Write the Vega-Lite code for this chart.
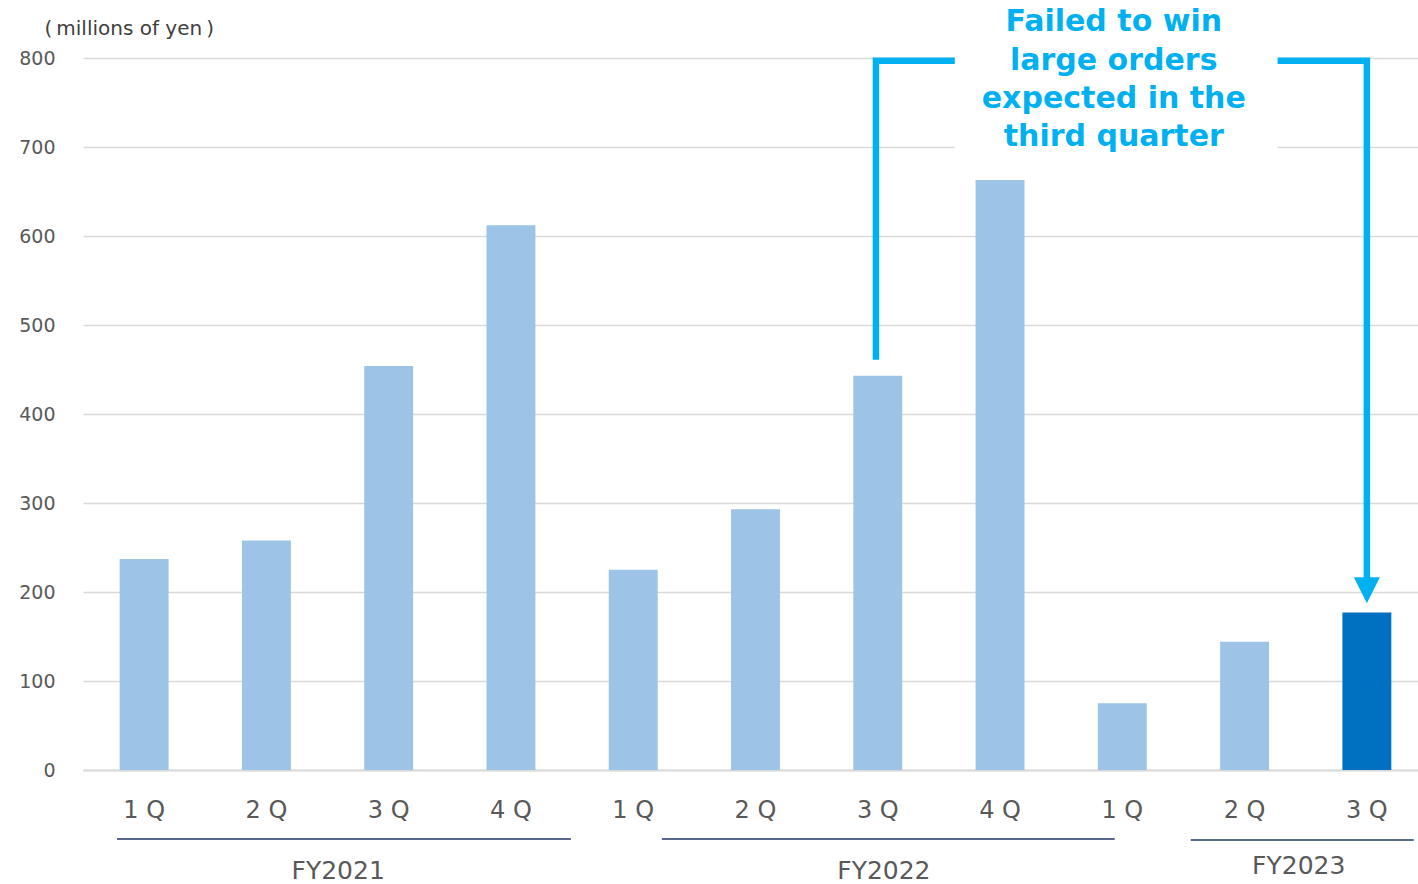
{
  "$schema": "https://vega.github.io/schema/vega-lite/v6.json",
  "width": 1345,
  "height": 712,
  "autosize": {"type": "none"},
  "padding": {"left": 83, "top": 58, "right": 0, "bottom": 114},
  "background": "white",
  "config": {"view": {"stroke": null}, "font": "DejaVu Sans"},
  "resolve": {"scale": {"x": "independent"}, "axis": {"x": "independent", "y": "independent"}},
  "layer": [
    {
      "data": {"values": [
        {"period": "FY2021|1 Q", "value": 237, "latest": "no"},
        {"period": "FY2021|2 Q", "value": 258, "latest": "no"},
        {"period": "FY2021|3 Q", "value": 454, "latest": "no"},
        {"period": "FY2021|4 Q", "value": 612, "latest": "no"},
        {"period": "FY2022|1 Q", "value": 225, "latest": "no"},
        {"period": "FY2022|2 Q", "value": 293, "latest": "no"},
        {"period": "FY2022|3 Q", "value": 443, "latest": "no"},
        {"period": "FY2022|4 Q", "value": 663, "latest": "no"},
        {"period": "FY2023|1 Q", "value": 75, "latest": "no"},
        {"period": "FY2023|2 Q", "value": 144, "latest": "no"},
        {"period": "FY2023|3 Q", "value": 177, "latest": "yes"}
      ]},
      "mark": {"type": "bar"},
      "encoding": {
        "x": {
          "field": "period", "type": "nominal", "sort": null,
          "scale": {"paddingInner": 0.6, "paddingOuter": 0.3},
          "axis": {
            "title": null,
            "labelExpr": "split(datum.value, '|')[1]",
            "labelAngle": 0,
            "labelFontSize": 24,
            "labelColor": "#595959",
            "labelPadding": 28,
            "ticks": false,
            "tickSize": 0,
            "domainColor": "#d9d9d9",
            "domainWidth": 2,
            "grid": false
          }
        },
        "y": {
          "field": "value", "type": "quantitative",
          "scale": {"domain": [0, 800], "nice": false},
          "axis": {
            "values": [0, 100, 200, 300, 400, 500, 600, 700, 800],
            "title": "(\u2009millions of yen\u2009)",
            "titleAngle": 0,
            "titleAlign": "left",
            "titleBaseline": "middle",
            "titleX": -39,
            "titleY": -30,
            "titleFontSize": 20,
            "titleFontWeight": "normal",
            "titleColor": "#404040",
            "labelFontSize": 19,
            "labelColor": "#595959",
            "labelPadding": 28,
            "ticks": false,
            "tickSize": 0,
            "domain": false,
            "gridColor": "#d9d9d9",
            "gridWidth": 1.5
          }
        },
        "color": {
          "field": "latest", "type": "nominal",
          "scale": {"domain": ["no", "yes"], "range": ["#9DC3E6", "#0070C0"]},
          "legend": null
        }
      }
    },
    {
      "data": {"values": [{"left": 6.63, "right": 9.27, "bottom": 690, "top": 870}]},
      "mark": {"type": "rect", "color": "white"},
      "encoding": {
        "x": {"field": "left", "type": "quantitative", "scale": {"domain": [-0.5, 10.5], "nice": false, "zero": false}, "axis": null},
        "x2": {"field": "right"},
        "y": {"field": "bottom", "type": "quantitative", "scale": {"domain": [0, 800], "nice": false}, "axis": null},
        "y2": {"field": "top"}
      }
    },
    {
      "data": {"values": [
        {"seg": "a", "ord": 1, "pos": 5.985, "value": 461},
        {"seg": "a", "ord": 2, "pos": 5.985, "value": 797},
        {"seg": "a", "ord": 3, "pos": 6.63, "value": 797},
        {"seg": "b", "ord": 1, "pos": 9.27, "value": 797},
        {"seg": "b", "ord": 2, "pos": 10.0, "value": 797},
        {"seg": "b", "ord": 3, "pos": 10.0, "value": 206}
      ]},
      "mark": {"type": "line", "color": "#00B0F0", "strokeWidth": 6.5, "strokeJoin": "miter", "strokeCap": "butt"},
      "encoding": {
        "x": {"field": "pos", "type": "quantitative", "scale": {"domain": [-0.5, 10.5], "nice": false, "zero": false}, "axis": null},
        "y": {"field": "value", "type": "quantitative", "scale": {"domain": [0, 800], "nice": false}, "axis": null},
        "detail": {"field": "seg", "type": "nominal"},
        "order": {"field": "ord", "type": "quantitative"}
      }
    },
    {
      "data": {"values": [{"pos": 10.0, "value": 202}]},
      "mark": {"type": "point", "shape": "M-1,-1L1,-1L0,1Z", "filled": true, "color": "#00B0F0", "opacity": 1, "size": 676},
      "encoding": {
        "x": {"field": "pos", "type": "quantitative", "scale": {"domain": [-0.5, 10.5], "nice": false, "zero": false}, "axis": null},
        "y": {"field": "value", "type": "quantitative", "scale": {"domain": [0, 800], "nice": false}, "axis": null}
      }
    },
    {
      "data": {"values": [
        {"pos": 7.93, "value": 840, "label": "Failed to win"},
        {"pos": 7.93, "value": 797, "label": "large orders"},
        {"pos": 7.93, "value": 754, "label": "expected in the"},
        {"pos": 7.93, "value": 711, "label": "third quarter"}
      ]},
      "mark": {"type": "text", "color": "#00B0F0", "fontSize": 30, "fontWeight": "bold", "align": "center", "baseline": "middle"},
      "encoding": {
        "x": {"field": "pos", "type": "quantitative", "scale": {"domain": [-0.5, 10.5], "nice": false, "zero": false}, "axis": null},
        "y": {"field": "value", "type": "quantitative", "scale": {"domain": [0, 800], "nice": false}, "axis": null},
        "text": {"field": "label"}
      }
    },
    {
      "data": {"values": [
        {"fy": "FY2021", "start": -0.222, "end": 3.49, "value": -77.5},
        {"fy": "FY2022", "start": 4.234, "end": 7.938, "value": -77.5},
        {"fy": "FY2023", "start": 8.56, "end": 10.384, "value": -78.7}
      ]},
      "mark": {"type": "rule", "color": "#203864", "strokeWidth": 1.5},
      "encoding": {
        "x": {"field": "start", "type": "quantitative", "scale": {"domain": [-0.5, 10.5], "nice": false, "zero": false}, "axis": null},
        "x2": {"field": "end"},
        "y": {"field": "value", "type": "quantitative", "scale": {"domain": [0, 800], "nice": false}, "axis": null}
      }
    },
    {
      "data": {"values": [
        {"fy": "FY2021", "pos": 1.587, "value": -113},
        {"fy": "FY2022", "pos": 6.05, "value": -113},
        {"fy": "FY2023", "pos": 9.443, "value": -108}
      ]},
      "mark": {"type": "text", "color": "#595959", "fontSize": 25, "align": "center", "baseline": "middle"},
      "encoding": {
        "x": {"field": "pos", "type": "quantitative", "scale": {"domain": [-0.5, 10.5], "nice": false, "zero": false}, "axis": null},
        "y": {"field": "value", "type": "quantitative", "scale": {"domain": [0, 800], "nice": false}, "axis": null},
        "text": {"field": "fy"}
      }
    }
  ]
}
